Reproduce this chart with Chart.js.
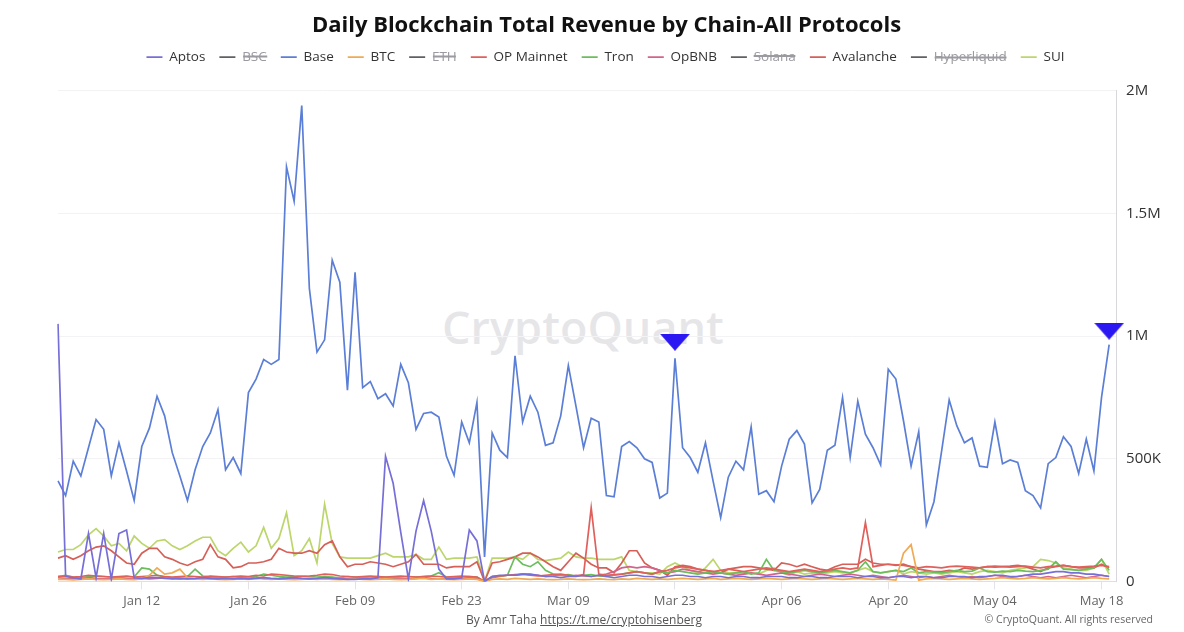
<!DOCTYPE html>
<html>
<head>
<meta charset="utf-8">
<script src="https://cdn.jsdelivr.net/npm/chart.js@4"></script>
<style>
  html, body { margin: 0; padding: 0; background: #fff; }
  #wrap { position: relative; width: 1184px; height: 632px; overflow: hidden; font-family: "Open Sans", "Noto Sans", sans-serif; }
  #wm { position: absolute; left: 0; width: 1166px; top: 296px; text-align: center; font-size: 45px; font-weight: 600; color: rgba(205,205,212,0.5); }
  #chart { position: absolute; left: 0; top: 0; }
  #by { position: absolute; top: 611px; left: 0; width: 1168px; text-align: center; font-size: 12px; color: #555; }
  #by a { color: #555; text-decoration: underline; }
  #copy { position: absolute; top: 612px; right: 31px; font-size: 10.5px; color: #666; }
</style>
</head>
<body>
<div id="wrap">
  <div id="wm">CryptoQuant</div>
  <canvas id="chart" width="1184" height="632"></canvas>
  <div id="by">By Amr Taha <a href="#">https://t.me/cryptohisenberg</a></div>
  <div id="copy">© CryptoQuant. All rights reserved</div>
</div>
<script>
// ---- categories (daily, Jan 01 .. May 19) ----
const monthNames = ['Jan','Feb','Mar','Apr','May'];
const monthDays = [31, 28, 31, 30, 19];
const categories = [];
monthNames.forEach((m, mi) => {
  for (let d = 1; d <= monthDays[mi]; d++) categories.push(m + ' ' + String(d).padStart(2, '0'));
});
const tickLabels = ['Jan 12','Jan 26','Feb 09','Feb 23','Mar 09','Mar 23','Apr 06','Apr 20','May 04','May 18'];
const yTickLabels = { 0: '0', 500: '500K', 1000: '1M', 1500: '1.5M', 2000: '2M' };

// ---- series values (USD thousands) ----
const base = [410,350,490,430,545,660,620,430,565,450,330,550,625,755,675,525,430,330,455,550,605,700,455,505,440,770,825,905,885,905,1690,1550,1940,1195,935,985,1310,1220,780,1260,790,815,745,765,715,885,810,620,685,690,670,510,433,650,565,730,100,605,535,505,920,650,755,690,555,565,675,880,715,545,665,650,350,345,550,570,545,500,485,340,360,910,545,505,445,565,410,260,425,490,455,630,355,370,325,470,580,615,560,320,375,535,555,750,505,735,600,545,475,865,825,655,470,610,230,325,530,740,635,565,585,470,465,650,480,495,485,370,350,300,480,505,590,550,440,580,450,750,965];
const aptos = [1050,20,15,10,195,15,195,10,195,210,15,12,15,15,12,10,12,10,12,15,12,10,12,10,12,10,12,15,12,10,12,15,12,10,12,15,12,10,8,8,10,10,15,510,400,200,10,205,330,205,50,10,10,15,210,165,0,20,25,25,25,30,30,25,20,20,15,20,20,25,20,25,20,15,20,25,25,20,20,15,20,25,25,20,20,15,20,20,15,20,20,15,15,20,20,20,15,15,20,20,15,15,20,20,20,15,20,20,15,15,20,20,15,20,20,15,15,20,20,20,15,20,20,25,25,20,20,25,30,30,35,40,40,35,35,30,30,25,20];
const sui = [120,130,130,150,190,215,185,145,155,125,185,155,135,165,170,145,130,145,165,180,180,125,105,135,160,120,145,220,135,175,280,105,125,175,75,315,155,100,95,95,95,95,105,115,100,100,100,110,90,90,140,90,95,95,95,100,0,95,95,95,100,90,115,90,85,90,95,120,100,95,95,90,90,90,100,45,40,35,35,30,60,75,60,45,35,55,90,45,35,35,30,35,30,45,55,35,25,40,30,35,30,35,40,35,35,45,55,40,35,40,45,30,40,35,30,35,30,35,40,35,30,40,45,40,35,45,50,55,60,90,85,75,55,50,45,45,55,90,30];
const avalanche = [95,105,90,105,125,140,145,125,100,75,70,115,135,135,100,90,75,65,80,90,150,100,90,55,60,75,75,80,90,135,120,115,115,125,115,150,165,100,60,70,70,80,75,70,60,70,80,110,70,70,70,55,60,60,60,80,0,75,80,90,100,115,115,100,80,60,45,80,115,95,70,55,55,35,75,125,125,75,55,45,25,60,65,60,50,45,40,35,50,55,60,60,55,50,45,75,70,60,70,60,50,45,60,70,70,70,90,75,70,70,65,70,60,50,45,40,40,45,42,55,50,55,60,58,60,62,65,60,50,40,55,60,65,60,55,55,55,70,55];
const opMainnet = [20,22,18,20,25,22,20,18,20,22,18,20,22,25,20,18,20,22,20,18,22,20,18,20,22,20,25,22,30,28,25,22,20,22,25,30,28,22,20,18,20,22,20,18,20,22,20,18,20,22,20,18,20,22,20,18,0,20,22,25,28,30,25,22,25,28,30,25,22,28,300,30,25,28,30,35,40,35,30,40,45,55,60,55,50,45,40,45,50,45,40,45,50,55,50,45,40,45,50,45,40,45,50,55,50,55,240,60,65,70,68,65,60,55,60,58,55,60,62,60,58,55,60,62,60,58,60,62,58,55,60,62,65,60,58,60,62,65,60];
const tron = [20,25,18,15,20,22,20,18,15,20,18,55,50,25,18,15,18,20,50,22,18,15,18,20,15,18,20,30,25,20,18,20,22,20,18,20,18,15,20,18,15,18,20,18,15,18,20,18,20,22,35,18,15,18,20,18,0,20,22,25,100,70,60,80,45,30,25,28,22,25,28,22,20,25,30,35,40,35,30,40,35,45,40,35,30,35,40,35,30,35,40,30,35,90,45,40,35,40,45,40,35,40,45,40,35,45,80,40,35,40,45,40,55,35,40,38,35,40,45,40,42,55,40,38,42,40,45,42,40,45,50,80,50,48,45,50,55,90,45];
const btc = [8,8,6,8,10,8,7,8,10,8,7,10,25,55,30,35,50,15,10,8,10,8,7,8,10,8,12,10,8,10,8,7,8,10,8,10,8,7,8,10,8,7,8,10,8,7,8,10,12,8,10,8,7,8,10,8,0,8,10,8,12,10,8,10,8,7,8,10,8,7,8,10,8,7,10,8,12,10,8,10,8,10,12,10,8,10,12,8,10,12,10,8,10,12,10,8,10,12,10,8,10,12,10,8,10,12,10,8,10,8,5,115,150,5,10,12,10,8,10,12,10,8,10,12,15,12,10,12,15,12,10,12,15,12,10,12,15,12,10];
const opbnb = [15,12,10,12,15,12,10,12,15,12,10,12,10,12,15,12,10,12,10,12,15,12,10,12,10,12,15,12,10,12,15,12,10,12,10,12,15,12,10,12,10,12,15,12,10,12,10,12,15,12,10,12,10,12,15,12,0,15,20,25,25,30,28,25,20,22,25,20,25,22,20,25,30,40,55,60,55,60,55,45,35,40,50,45,40,35,30,35,30,25,30,35,30,25,30,35,30,25,20,25,30,25,20,25,30,25,20,25,20,15,20,25,20,15,20,15,20,25,20,15,20,15,20,25,20,15,20,25,20,15,20,15,20,25,20,15,20,25,20];
// annotation markers (downward triangles)
const markerIdx = [81, 138];
const markerVals = [975, 1020];

const markerData = categories.map(() => null);
markerIdx.forEach((i, k) => { markerData[i] = markerVals[k]; });

// triangle image for markers
const tri = document.createElement('canvas');
tri.width = 30; tri.height = 17;
(function(){
  const c = tri.getContext('2d');
  c.fillStyle = '#2b17f2';
  c.beginPath(); c.moveTo(0, 0); c.lineTo(30, 0); c.lineTo(15, 17); c.closePath(); c.fill();
})();

const grey = '#5f5f66';
function ds(label, data, color, hidden) {
  return { label, data, borderColor: color, backgroundColor: color, borderWidth: 1.7, pointRadius: 0, tension: 0, fill: false, hidden: !!hidden };
}
const datasets = [
  { label: 'marker', data: markerData, showLine: false, pointStyle: tri, pointRadius: 10, borderWidth: 0, backgroundColor: '#2b17f2', borderColor: '#2b17f2' },
  ds('Aptos', aptos, '#776fd8'),
  ds('BSC', [], grey, true),
  ds('Base', base, '#5b7ed6'),
  ds('BTC', btc, '#efaa55'),
  ds('ETH', [], grey, true),
  ds('OP Mainnet', opMainnet, '#e0605c'),
  ds('Tron', tron, '#6cbd5c'),
  ds('OpBNB', opbnb, '#d2648c'),
  ds('Solana', [], grey, true),
  ds('Avalanche', avalanche, '#d65f58'),
  ds('Hyperliquid', [], grey, true),
  ds('SUI', sui, '#bcd66c'),
];

const font = '"Open Sans", "Noto Sans", sans-serif';
Chart.defaults.font.family = font;

const headerTweak = {
  id: 'headerTweak',
  beforeInit(chart) {
    const lg = chart.legend;
    const origFit = lg.fit;
    lg.fit = function() { origFit.call(this); this.height += 17; };
  },
  afterLayout(chart) {
    const lg = chart.legend;
    lg.left -= 9; lg.right -= 9;
    const tb = chart.titleBlock;
    if (tb) { tb.left -= 8; tb.right -= 8; }
  }
};

new Chart(document.getElementById('chart'), {
  type: 'line',
  data: { labels: categories, datasets },
  plugins: [headerTweak],
  options: {
    responsive: false,
    animation: false,
    layout: { padding: { left: 58, right: 13, top: 4, bottom: 19 } },
    plugins: {
      tooltip: { enabled: false },
      title: {
        display: true,
        text: 'Daily Blockchain Total Revenue by Chain-All Protocols',
        color: '#111',
        font: { size: 22, weight: 'bold', family: font },
        padding: { top: 9, bottom: -3 }
      },
      legend: {
        display: true,
        onClick: null,
        labels: {
          color: '#333',
          font: { size: 13.5, family: font },
          usePointStyle: true,
          pointStyle: 'line',
          pointStyleWidth: 16,
          boxHeight: 13,
          padding: 14,
          filter: (item) => item.text !== 'marker',
          generateLabels: (chart) => {
            const items = Chart.defaults.plugins.legend.labels.generateLabels(chart);
            items.forEach(it => {
              it.pointStyle = 'line';
              it.lineWidth = 1.6;
              it.fontColor = it.hidden ? '#9a9aa0' : '#333';
            });
            return items;
          }
        }
      }
    },
    scales: {
      x: {
        type: 'category',
        offset: false,
        afterBuildTicks: (scale) => { scale._valueRange = (categories.length - 1) * 1.0066; },
        grid: { drawOnChartArea: false, drawTicks: true, tickLength: 8, color: '#e2e2e8' },
        border: { display: true, color: '#dddcf0' },
        ticks: {
          autoSkip: false,
          maxRotation: 0,
          color: '#666',
          font: { size: 13, family: font },
          padding: 4,
          callback: function(value) {
            const lab = this.getLabelForValue(value);
            return tickLabels.includes(lab) ? lab : null;
          }
        }
      },
      y: {
        position: 'right',
        min: 0,
        max: 2000,
        grid: { color: '#f3f3f5', drawTicks: false },
        border: { display: true, color: '#d8d8dc' },
        ticks: {
          stepSize: 500,
          color: '#333',
          padding: 10,
          font: { size: 15, family: font },
          callback: (v) => yTickLabels[v] !== undefined ? yTickLabels[v] : ''
        }
      }
    }
  }
});
</script>
</body>
</html>
